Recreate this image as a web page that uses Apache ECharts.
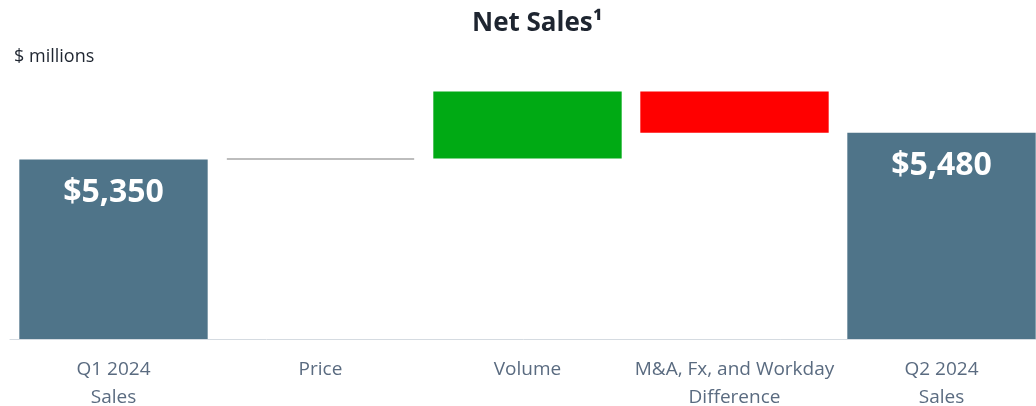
<!DOCTYPE html>
<html>
<head>
<meta charset="utf-8">
<script src="https://cdn.jsdelivr.net/npm/echarts@6/dist/echarts.min.js"></script>
<style>
  html, body { margin: 0; padding: 0; background: #fff; }
  #main { width: 1036px; height: 406px; }
</style>
</head>
<body>
<div id="main"></div>
<script>
// waterfall data ($ millions)
const categories = ["Q1 2024\nSales", "Price", "Volume", "M&A, Fx, and Workday\nDifference", "Q2 2024\nSales"];
const startValue = 5350;
const deltas = [5, 323, -198]; // Price, Volume, M&A/Fx/Workday
const endValue = 5480;
const deltaColors = ["#bdbdbd", "#00aa14", "#ff0000"];

// build the stacked helper / visible series
let running = startValue;
const helper = ["-"];
const change = ["-"];
deltas.forEach(function (d, i) {
  const base = d >= 0 ? running : running + d;
  helper.push(base);
  change.push({ value: Math.abs(d), itemStyle: { color: deltaColors[i], borderColor: deltaColors[i], borderWidth: i === 0 ? 2 : 0 } });
  running += d;
});
helper.push("-");
change.push("-");
const totals = [startValue, "-", "-", "-", endValue];

const font = "'Source Sans Pro', 'Open Sans', 'Noto Sans', sans-serif";
const myChart = echarts.init(document.getElementById("main"));
myChart.setOption({
  animation: false,
  title: {
    text: "Net Sales\u00b9",
    left: 467,
    top: 6,
    textStyle: { fontFamily: font, fontSize: 26, fontWeight: "bold", color: "#1e2530" }
  },
  graphic: [{
    type: "text",
    left: 14,
    top: 48,
    style: { text: "$ millions", fontFamily: font, fontSize: 18, fill: "#1e2530" }
  }],
  grid: { left: 10, width: 1035, top: 87, bottom: 67, containLabel: false, outerBoundsMode: "none" },
  xAxis: {
    type: "category",
    data: categories,
    axisTick: { show: false },
    axisLine: { lineStyle: { color: "#d5dbe1", width: 1 } },
    axisLabel: {
      margin: 17,
      interval: 0,
      fontFamily: font,
      fontSize: 19,
      lineHeight: 28,
      color: "#5a6b80"
    }
  },
  yAxis: {
    type: "value",
    min: 4485,
    max: 5700,
    show: false,
    splitLine: { show: false }
  },
  series: [
    {
      name: "helper",
      type: "bar",
      stack: "wf",
      barCategoryGap: "9%",
      itemStyle: { color: "transparent" },
      emphasis: { disabled: true },
      data: helper
    },
    {
      name: "total",
      type: "bar",
      stack: "wf",
      barCategoryGap: "9%",
      itemStyle: { color: "#4f7489" },
      label: {
        show: true,
        position: "insideTop",
        distance: 17,
        fontFamily: font,
        fontSize: 32,
        fontWeight: "bold",
        color: "#ffffff",
        formatter: function (p) {
          return "$" + p.value.toLocaleString("en-US");
        }
      },
      data: totals
    },
    {
      name: "change",
      type: "bar",
      stack: "wf",
      barCategoryGap: "9%",
      data: change
    }
  ]
});
</script>
</body>
</html>
